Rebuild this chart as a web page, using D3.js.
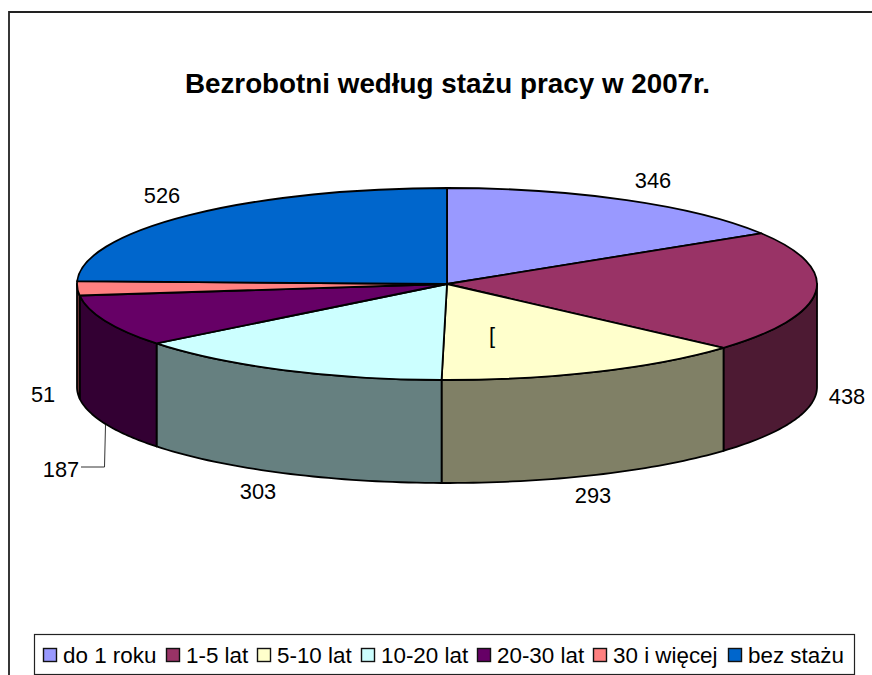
<!DOCTYPE html>
<html><head><meta charset="utf-8">
<script src="https://cdn.jsdelivr.net/npm/d3@7/dist/d3.min.js"></script>
<style>html,body{margin:0;padding:0;background:#fff;overflow:hidden}svg{display:block}text{font-family:"Liberation Sans",Arial,sans-serif;fill:#000}</style>
</head><body><svg id="c" width="872" height="675"></svg>
<script>
const categories=["do 1 roku","1-5 lat","5-10 lat","10-20 lat","20-30 lat","30 i więcej","bez stażu"];
const values=[346,438,293,303,187,51,526];
const colors=["#9999FF","#993366","#FFFFCC","#CCFFFF","#660066","#FF8080","#0066CC"];
const labelPos=[[653,181],[847,397],[593,496],[258,492],[61,470],[43,395],[162,196]];
const legendX=[43,166,257,361,477,593,728];
const titleText="Bezrobotni według stażu pracy w 2007r.";

const svg=d3.select("#c");
const cx=447,cy=284,rx=370,ry=96,depth=103;
svg.append("path").attr("d","M9,676V12H873").attr("fill","none").attr("stroke","#222").attr("stroke-width",1.8);
svg.append("text").attr("x",447.5).attr("y",93).attr("text-anchor","middle").style("font-size","27.8px").style("font-weight","bold").text(titleText);

const arcs=d3.pie().sort(null)(values);
const px=a=>cx+rx*Math.sin(a), py=a=>cy-ry*Math.cos(a);
const shade=c=>{const r=d3.rgb(c);return d3.rgb(r.r/2,r.g/2,r.b/2).formatHex();};
const sides=svg.append("g");
arcs.forEach((d,i)=>{
  const a0=Math.max(d.startAngle,Math.PI/2),a1=Math.min(d.endAngle,Math.PI*1.5);
  if(a1<=a0)return;
  const top=d3.range(0,41).map(k=>a0+(a1-a0)*k/40);
  const pts=top.map(a=>[px(a),py(a)]).concat(top.slice().reverse().map(a=>[px(a),py(a)+depth]));
  sides.append("path").attr("d",d3.line()(pts)+"Z").attr("fill",shade(colors[i])).attr("stroke","#000").attr("stroke-width",1.8).attr("stroke-linejoin","round");
});
const arc=d3.arc().innerRadius(0).outerRadius(rx);
svg.append("g").attr("transform",`translate(${cx},${cy}) scale(1,${ry/rx})`)
 .selectAll("path").data(arcs).join("path").attr("d",arc)
 .attr("fill",(d,i)=>colors[i]).attr("stroke","#000").attr("stroke-width",1.8)
 .attr("vector-effect","non-scaling-stroke").attr("stroke-linejoin","round");

svg.append("g").selectAll("text").data(values).join("text")
 .attr("x",(d,i)=>labelPos[i][0]).attr("y",(d,i)=>labelPos[i][1]+7)
 .attr("text-anchor","middle").style("font-size","21.8px").text(d=>d);
svg.append("text").attr("x",489).attr("y",343).style("font-size","21.8px").text("[");
svg.append("path").attr("d",d3.line()([[105.5,425],[104.5,467],[81,467]])).attr("fill","none").attr("stroke","#333");

const lg=svg.append("g");
lg.append("rect").attr("x",34.5).attr("y",634.5).attr("width",820).attr("height",40).attr("fill","#fff").attr("stroke","#222").attr("stroke-width",1.2);
const items=lg.selectAll("g").data(categories).join("g").attr("transform",(d,i)=>`translate(${legendX[i]},0)`);
items.append("rect").attr("x",0.5).attr("y",648.5).attr("width",13).attr("height",13).attr("fill",(d,i)=>colors[i]).attr("stroke","#111").attr("stroke-width",1.4);
items.append("text").attr("x",20).attr("y",663).style("font-size","22.4px").text(d=>d);
</script></body></html>
